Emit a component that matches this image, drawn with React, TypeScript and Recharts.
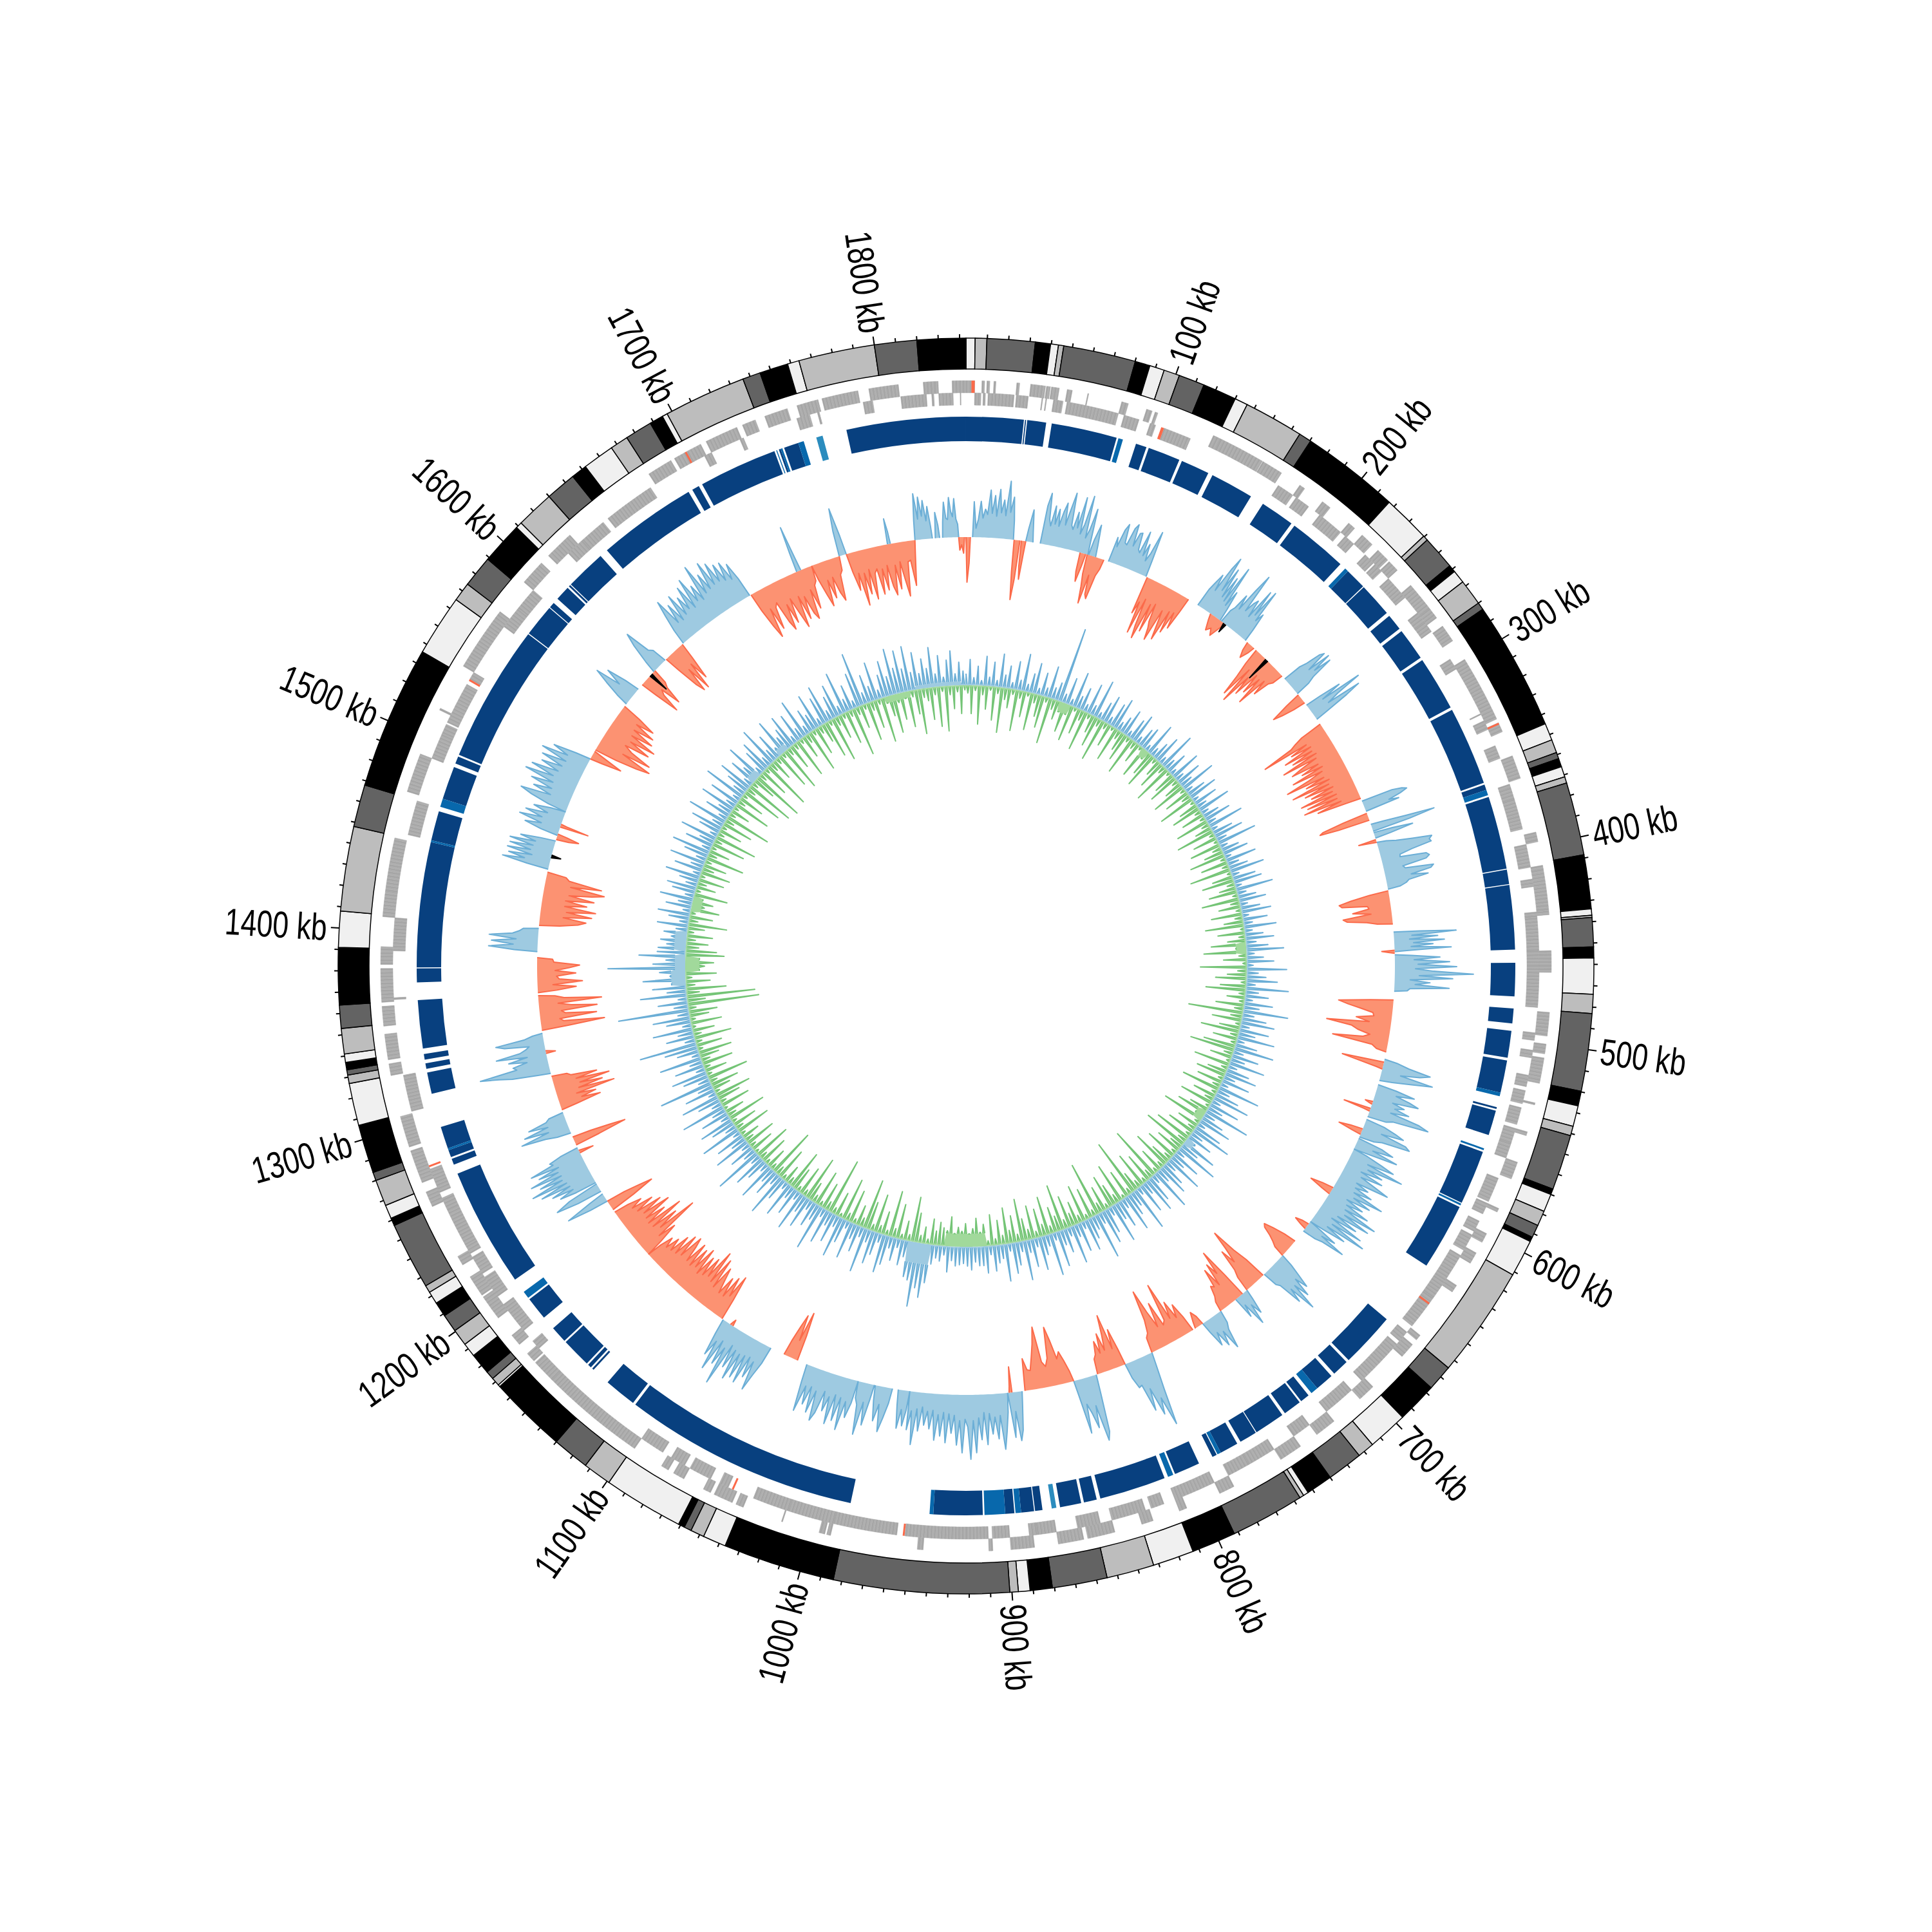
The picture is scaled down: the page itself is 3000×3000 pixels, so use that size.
import React from 'react';
import { PieChart, Pie, RadarChart, Radar, PolarAngleAxis, PolarRadiusAxis } from 'recharts';

const GENOME_KB = 1843;
const SIZE = 3000;
const CENTER = SIZE / 2;

// ideogram bands: end position (kb), shades cycle light, grey, dark, black
const bandEnds = [4.3, 9.8, 32.5, 39.7, 43.4, 45.9, 80.1, 87.2, 94.2, 101.7, 114, 130, 136.2, 164.4, 170.4, 217, 239.6, 242, 258, 261.5, 267.7, 280, 283.5, 344.6, 352.7, 359, 362, 366, 371, 374, 408.5, 434, 437, 438, 451.8, 457, 474, 483, 519.7, 526.7, 536.5, 541, 567.3, 570, 578.5, 585.7, 591.8, 594, 611.6, 664.5, 676.8, 696, 715, 723, 740, 752.5, 755, 757, 792, 813, 832.5, 855, 881, 891.5, 897, 901, 984, 1037, 1048, 1054.5, 1058, 1061, 1099, 1112.5, 1130, 1167, 1168, 1172, 1176, 1186, 1192.6, 1200.5, 1209, 1216, 1222, 1225.5, 1257.3, 1261, 1267.5, 1280, 1284, 1307, 1327, 1331, 1333.5, 1337, 1341, 1353, 1364, 1391, 1408, 1448, 1468, 1536, 1565, 1574, 1589, 1609, 1612, 1630, 1644.5, 1652, 1667, 1675.6, 1688.5, 1695, 1697.5, 1736.5, 1745, 1758.5, 1764, 1800, 1820, 1843];
const bandCycle = ['#f0f0f0', '#bdbdbd', '#636363', '#000000'];

// gene blocks on the two strands, [start, end] in kb
const genesOuter = [[1770, 1788.5], [1794, 1809], [1821.5, 1829], [1836, 1843], [0, 4.4], [8, 9.4], [10.5, 12], [14, 15], [25.5, 27], [32.5, 40], [40.5, 42.5], [43, 47], [51, 53.6], [61.5, 62], [79, 82.5], [92, 95], [96.5, 98], [128, 132], [132, 155.7], [156, 167], [178, 181], [192, 197], [209, 213], [218, 225], [229, 236], [237, 243], [253, 268], [268, 274], [279, 284], [283, 288], [299, 308], [307, 333], [335, 340], [353, 365], [393, 398], [410, 412], [411, 433], [433, 435], [453, 464], [484, 496], [500, 505], [507, 520], [530, 531], [545, 547], [561, 570], [586, 588], [600, 605], [611, 617], [630, 634], [661, 664], [667, 675], [696, 705], [722, 733], [743, 755], [782, 790], [808, 812], [826, 832], [846, 860], [862, 875], [887, 899], [908, 910], [943, 946], [990, 992], [993, 996], [1015, 1015.6], [1036, 1040], [1042, 1052], [1054, 1058], [1069, 1075], [1078, 1082], [1098, 1112], [1111, 1130], [1128, 1146], [1145, 1152], [1152, 1164], [1165, 1170], [1176, 1182], [1193, 1206], [1207, 1218], [1225, 1230], [1258, 1266], [1271, 1288], [1290, 1306], [1327, 1333], [1335, 1348], [1352, 1362], [1364, 1381], [1383, 1392], [1407, 1420], [1420, 1447], [1471, 1480], [1478, 1491], [1515, 1516], [1540, 1573], [1592, 1605], [1610, 1625], [1675, 1688], [1690, 1705], [1708, 1725], [1728, 1735], [1740, 1752], [1757, 1768]];
const genesInner = [[4.4, 7.7], [8.8, 10], [11.3, 24.7], [25.8, 32], [39, 39.5], [41, 41.5], [45, 50], [52, 79], [82, 90], [96, 99], [103.5, 118], [169, 178], [180, 188], [195, 209], [212, 218], [226, 232], [233, 238], [243, 256], [266, 272], [272, 278], [295, 301], [327, 327.6], [331, 336], [345, 352], [366, 368], [368, 374], [374, 390], [398, 410], [416, 420], [433, 436], [436, 453], [453, 482], [495, 499], [504, 508], [517, 523], [525, 532], [534, 543], [545, 553], [549, 561], [572, 585], [586, 592], [596, 602], [604, 613], [616, 632], [632, 642], [642, 660], [664, 670], [672, 698], [705, 722], [733, 743], [755, 770], [770, 782], [790, 812], [818, 825], [828, 846], [852, 864], [875, 885], [885, 889], [899, 908], [910, 921], [921, 941], [941, 953], [957, 990], [988, 1014], [1014, 1033], [1047, 1052], [1057, 1069], [1072, 1080], [1085, 1098], [1168, 1173], [1180, 1197], [1202, 1214], [1216, 1226], [1228, 1233], [1233, 1253], [1252, 1260], [1263, 1276], [1307, 1326], [1365, 1366], [1390, 1407], [1450, 1468], [1491, 1505], [1498, 1510], [1511, 1533], [1536, 1540], [1568, 1580], [1578, 1592], [1618, 1628], [1628, 1642], [1645, 1672], [1704, 1708], [1724, 1726], [1755, 1762], [1766, 1767], [1790, 1795], [1809.5, 1822.7], [1825.4, 1826.5], [1829, 1836.4], [1840, 1840.4]];
const genesOuterFlag = [[2.75, 4.4], [335, 336], [1696, 1697]];
const genesInnerFlag = [[102, 103.5], [645, 646], [953, 954], [1044, 1045], [1277, 1278], [1535, 1536]];

// blue ring blocks, three shades
const ringDark = [[0, 31], [31.6, 32.2], [32.8, 43], [46, 81.5], [92.3, 98.2], [99.5, 117], [118.5, 134], [136.5, 160], [167.5, 186], [188, 220], [225.5, 237], [237.5, 256], [258, 266.8], [268.5, 286], [287.5, 317], [318.5, 361], [362, 365], [369, 408.5], [409, 416.8], [417.3, 452], [459, 477], [483.5, 491.5], [495.5, 510], [511.5, 529], [537, 538], [539, 552.5], [562, 591.5], [594, 630], [665.6, 695.5], [697, 706], [708, 718], [724, 729], [730, 739.8], [741.5, 758], [758.5, 768], [770, 780], [782.5, 785], [793, 807], [813, 849], [851, 858], [859.5, 871], [880.5, 884.5], [885, 892], [895.6, 900.5], [912.5, 939], [983.6, 1111], [1112.5, 1130], [1140, 1141], [1142, 1144], [1145, 1161], [1162, 1171], [1178.5, 1191], [1204, 1268.5], [1273.7, 1277], [1278, 1282], [1283, 1295], [1313.4, 1325], [1327, 1330], [1332, 1335], [1338, 1364], [1373.5, 1381], [1381.5, 1449], [1450, 1466], [1473, 1491], [1493, 1497], [1498, 1572.5], [1573, 1590.5], [1591, 1594], [1597, 1605], [1606, 1607], [1607.5, 1629.5], [1634, 1687.7], [1690, 1694], [1696, 1738.5], [1741, 1742], [1744, 1752], [1778.6, 1843]];
const ringMid = [[82.5, 85], [223.5, 225.5], [365, 368], [529, 531], [560, 561], [592, 593], [718, 722], [780, 782], [808, 811], [892, 895], [900.5, 911.6], [939, 941], [1192, 1196], [1282, 1283], [1449, 1450], [1468.5, 1473], [1739.5, 1740], [1742, 1743], [1752, 1755]];
const ringLight = [[873, 875.5], [1762, 1765.5]];

// outer histogram: [start kb, end kb, then evenly spaced heights]
const outerBlue = [
  [4.5, 32.5, 55, 14, 28, 56, 30, 44, 36, 74, 38, 66, 34, 76, 40, 60, 36, 90, 42, 66, 30],
  [41, 46, 20, 50, 15],
  [51, 84.5, 60, 80, 40, 30, 62, 34, 58, 32, 55, 70, 36, 62, 88, 38, 32, 60, 36, 85, 28, 44, 90, 24, 38, 72, 20],
  [85, 90, 25, 50, 18],
  [99.3, 127, 40, 26, 55, 65, 36, 34, 62, 70, 36, 58, 60, 34, 30, 66, 28, 48, 22, 36, 73, 26],
  [167.5, 186, 30, 45, 60, 34, 75, 96, 40, 80, 32, 68, 28, 90, 24, 50, 20],
  [187, 208, 22, 30, 55, 32, 70, 99, 36, 52, 60, 32, 82, 40, 86, 34, 48, 20],
  [245.7, 259, 30, 42, 65, 72, 38, 75, 44, 72, 36, 24],
  [269, 281, 25, 60, 26, 92, 50, 30, 85, 60, 20],
  [345, 352.5, 50, 65, 72, 60, 40, 55],
  [362, 367, 20, 55, 101, 60],
  [368, 372, 30, 62, 25],
  [375, 408, 15, 30, 55, 85, 80, 82, 50, 30, 29, 70, 74, 68, 30, 33, 77, 72, 40, 66, 35, 30, 20],
  [437.5, 451, 40, 97, 28, 68, 24, 78, 30, 60, 26, 88, 22],
  [453, 478, 26, 70, 30, 85, 36, 96, 32, 60, 122, 38, 90, 24, 55, 32, 85, 24, 20],
  [525, 540, 20, 40, 75, 60, 30, 82, 50, 20],
  [543, 566, 30, 60, 32, 55, 70, 30, 50, 36, 60, 32, 80, 96, 40, 30],
  [568, 581, 30, 50, 65, 30, 72, 80, 36, 24],
  [582, 590, 40, 60, 28, 70, 24],
  [590, 648, 24, 50, 72, 30, 90, 34, 60, 26, 64, 30, 55, 80, 28, 50, 30, 60, 32, 83, 36, 66, 28, 58, 32, 72, 34, 90, 38, 83, 30, 66, 24, 80, 30, 90, 26, 60, 24],
  [648, 656, 20, 50, 28, 70, 34, 22],
  [678, 696, 20, 40, 60, 40, 70, 46, 89, 46, 68, 30, 24],
  [712, 722, 15, 40, 22, 54, 16, 35],
  [735, 750, 20, 30, 60, 28, 50, 24, 44, 18],
  [790, 810, 20, 60, 116, 70, 95, 50, 84, 40, 42, 24],
  [831, 847, 30, 90, 103, 46, 80, 56, 40, 85, 24],
  [883, 893, 20, 60, 76, 30, 70, 20],
  [893, 960, 30, 60, 87, 34, 70, 36, 62, 30, 78, 28, 70, 36, 90, 40, 100, 50, 38, 90, 40, 78, 32, 60, 30, 75, 28, 65, 32, 72, 26, 55, 28, 50, 22, 60, 26, 82, 30, 60],
  [960, 968, 30, 55, 30, 60, 24],
  [972, 984, 24, 48, 70, 28, 55, 24],
  [984.6, 996, 24, 65, 30, 82, 36, 26],
  [996, 1033, 36, 60, 36, 82, 32, 70, 30, 78, 36, 60, 30, 66, 80, 34, 70, 30, 60, 32, 74, 28],
  [1060, 1098, 28, 50, 77, 32, 60, 28, 74, 30, 70, 32, 77, 30, 62, 26, 95, 36, 66, 28, 80, 34, 60, 24],
  [1212, 1218, 30, 67, 25],
  [1220, 1226, 40, 75, 50],
  [1227, 1254, 34, 60, 36, 70, 38, 85, 40, 97, 44, 80, 42, 92, 44, 75, 40, 85, 46, 50, 30],
  [1265, 1280, 22, 40, 78, 32, 70, 30, 60, 30, 24],
  [1308, 1336, 20, 60, 80, 109, 50, 55, 32, 60, 30, 78, 40, 30, 24, 62, 75, 30, 16],
  [1392, 1408, 36, 76, 38, 72, 34, 76, 40, 30, 24],
  [1449, 1469, 34, 74, 40, 66, 30, 70, 34, 68, 32, 70, 30, 55, 24],
  [1473, 1490, 28, 55, 30, 67, 32, 60, 26, 50, 24],
  [1490, 1530, 30, 60, 79, 32, 62, 34, 70, 36, 84, 40, 78, 36, 66, 34, 70, 32, 75, 34, 60, 24],
  [1575, 1588, 20, 45, 68, 28, 55, 24],
  [1604, 1615, 20, 50, 70, 30, 24],
  [1632, 1688, 24, 50, 74, 30, 60, 28, 70, 32, 60, 36, 72, 32, 80, 38, 62, 34, 91, 40, 70, 42, 85, 44, 78, 44, 70, 40, 68, 36, 60, 32],
  [1724, 1727, 30, 73, 20],
  [1755, 1760, 40, 75, 30],
  [1789, 1791, 40, 20],
  [1808, 1820, 30, 72, 32, 66, 36, 60, 28, 50, 20],
  [1822, 1825, 40, 20],
  [1827, 1838, 24, 55, 30, 28, 62, 40, 32, 60, 28, 20],
];
const outerOrange = [
  [0, 3, 70, 40],
  [33, 37, 50, 93, 60],
  [38, 41, 40, 60, 20],
  [79, 83, 30, 45, 20],
  [84, 96, 30, 50, 76, 30, 60, 66, 28, 16],
  [128, 160, 60, 40, 90, 32, 75, 95, 36, 80, 32, 60, 70, 88, 36, 60, 82, 32, 66, 30, 55, 24],
  [178, 190, 10, 25, 18, 28, 10],
  [210, 216, 14, 25, 12],
  [218, 243, 26, 50, 82, 30, 90, 40, 70, 28, 60, 30, 75, 26, 50, 24, 18],
  [260, 267, 25, 54, 40, 20],
  [285, 343, 36, 50, 60, 110, 36, 65, 32, 80, 34, 70, 30, 90, 34, 62, 80, 36, 66, 32, 85, 36, 60, 100, 38, 70, 32, 96, 36, 78, 32, 70, 36, 90, 32, 82, 34, 90, 30, 70, 24],
  [354, 359, 40, 74, 80, 50],
  [373, 375, 28, 10],
  [409, 432, 30, 60, 79, 75, 36, 34, 60, 32, 76, 70, 40, 24],
  [450, 452, 20, 8],
  [484, 520, 36, 85, 70, 50, 30, 28, 55, 34, 100, 60, 50, 30, 40, 87, 24, 16],
  [527, 532, 66, 40, 10],
  [555, 557, 12, 5],
  [560, 562, 43, 10],
  [575, 579, 20, 38, 15],
  [620, 625, 18, 37, 15],
  [650, 654, 12, 22, 10],
  [665, 678, 20, 40, 54, 50, 36, 26, 18],
  [697, 712, 36, 60, 99, 70, 46, 70, 36, 24],
  [716, 735, 40, 87, 50, 70, 34, 65, 36, 40, 24, 16],
  [750, 756, 15, 25, 10],
  [758, 790, 26, 50, 30, 60, 34, 95, 36, 30, 70, 32, 60, 97, 50, 30, 24],
  [810, 830, 26, 60, 30, 86, 56, 32, 60, 30, 50, 30, 24],
  [847, 881, 16, 35, 50, 40, 70, 92, 44, 32, 40, 96, 70, 50, 30, 32, 50],
  [890, 892, 40, 10],
  [1040, 1050, 40, 77, 30, 70, 50, 24],
  [1090, 1092, 10, 4],
  [1099, 1166, 34, 73, 36, 66, 30, 60, 30, 50, 70, 32, 80, 36, 88, 40, 70, 36, 66, 32, 75, 38, 68, 34, 72, 36, 60, 75, 36, 71, 32, 62, 30, 50, 28, 44, 24],
  [1166, 1203, 28, 60, 32, 104, 42, 76, 34, 90, 32, 66, 34, 80, 36, 70, 30, 60, 26, 45, 24],
  [1205, 1212, 40, 76, 55, 30],
  [1250, 1252, 23, 8],
  [1256, 1262, 40, 85, 60, 30],
  [1282, 1306, 26, 65, 36, 60, 30, 92, 36, 75, 40, 88, 36, 70, 30, 24],
  [1322, 1324, 15, 5],
  [1338, 1362, 44, 99, 36, 30, 88, 40, 34, 90, 50, 30, 98, 40, 26],
  [1364, 1388, 30, 60, 24, 70, 34, 30, 60, 28, 50, 66, 26, 24],
  [1410, 1447, 32, 60, 72, 36, 80, 40, 85, 36, 70, 36, 80, 40, 75, 94, 40, 88, 36, 30],
  [1470, 1474, 20, 35, 15],
  [1479, 1481, 45, 10],
  [1530, 1536, 20, 50, 18],
  [1537, 1573, 36, 70, 90, 40, 85, 50, 36, 75, 40, 80, 36, 70, 34, 66, 32, 60, 30],
  [1592, 1605, 26, 66, 36, 28, 60, 32, 24],
  [1616, 1631, 26, 60, 75, 36, 76, 32, 62, 26],
  [1689, 1735, 30, 60, 80, 34, 70, 36, 30, 65, 80, 40, 72, 34, 62, 85, 36, 75, 40, 70, 80, 34, 66, 30, 24],
  [1735, 1755, 24, 50, 70, 30, 60, 28, 55, 68, 28, 22],
  [1760, 1808, 30, 60, 34, 86, 36, 70, 32, 80, 40, 34, 75, 36, 70, 32, 66, 80, 34, 72, 30, 60, 85, 32, 30, 70, 24],
  [1838, 1842, 20, 12, 25],
];
const outerBlack = [[189, 191, 15], [227, 229, 38], [1457, 1459, 15], [1600, 1602, 32]];

// inner tracks: one spike per 4 kb, 25 to a row (100 kb)
const innerBlue = [
  18, 40, 12, 30, 8, 46, 14, 38, 10, 52, 20, 35, 10, 44, 16, 58, 12, 30, 48, 10, 36, 14, 50, 18, 28,
  118, 14, 42, 10, 56, 20, 36, 12, 48, 16, 60, 10, 30, 44, 12, 38, 50, 14, 26, 42, 10, 34, 46, 12, 30,
  36, 10, 52, 14, 28, 44, 12, 60, 18, 34, 10, 48, 14, 40, 20, 56, 12, 30, 46, 10, 38, 16, 52, 12, 26,
  42, 14, 56, 10, 32, 46, 16, 62, 12, 28, 40, 10, 48, 18, 30, 54, 12, 36, 44, 10, 58, 14, 28, 42, 12,
  30, 46, 10, 38, 14, 50, 12, 28, 44, 16, 34, 58, 12, 26, 42, 10, 62, 18, 30, 48, 14, 66, 20, 36, 12,
  44, 24, 70, 18, 38, 52, 14, 46, 26, 58, 12, 34, 62, 16, 42, 22, 56, 14, 36, 50, 18, 44, 12, 66, 20,
  38, 58, 14, 48, 24, 72, 18, 36, 52, 12, 44, 64, 20, 40, 16, 56, 30, 68, 14, 46, 24, 60, 18, 38, 50,
  22, 66, 14, 42, 56, 20, 48, 12, 70, 24, 36, 58, 16, 44, 28, 62, 14, 40, 54, 18, 72, 22, 34, 50, 12,
  46, 20, 60, 14, 38, 24, 56, 12, 66, 18, 30, 52, 14, 44, 20, 62, 16, 36, 48, 12, 58, 22, 28, 40, 14,
  42, 30, 30, 24, 36, 30, 26, 28, 30, 22, 40, 14, 24, 20, 30, 60, 84, 70, 100, 60, 56, 26, 40, 14, 36,
  18, 46, 60, 14, 36, 52, 20, 70, 16, 42, 24, 58, 12, 38, 64, 18, 46, 22, 54, 14, 72, 26, 40, 16, 50,
  28, 62, 14, 44, 20, 56, 12, 36, 68, 18, 42, 24, 60, 14, 34, 52, 16, 76, 20, 40, 14, 58, 24, 46, 12,
  64, 18, 38, 54, 14, 44, 22, 70, 16, 36, 60, 12, 48, 24, 84, 18, 40, 56, 14, 46, 20, 66, 12, 34, 52,
  90, 16, 44, 24, 62, 14, 38, 58, 18, 110, 22, 46, 14, 72, 30, 52, 18, 66, 24, 40, 120, 50, 30, 72, 44,
  43, 30, 40, 24, 36, 18, 48, 14, 32, 50, 12, 40, 22, 52, 14, 36, 46, 18, 30, 54, 12, 44, 20, 56, 16,
  38, 60, 14, 44, 24, 58, 12, 34, 50, 18, 62, 14, 40, 22, 56, 16, 48, 12, 66, 20, 36, 54, 14, 44, 26,
  60, 12, 38, 50, 16, 64, 20, 42, 14, 58, 24, 34, 52, 12, 46, 18, 62, 14, 38, 26, 56, 12, 44, 60, 16,
  36, 52, 14, 66, 20, 40, 12, 54, 84, 18, 44, 24, 60, 14, 36, 56, 30, 72, 40, 66, 36, 70, 28, 58, 24,
  46, 30, 62, 20, 48, 14, 40, 54, 18, 36, 22,
];
const innerGreen = [
  12, 44, 8, 60, 14, 36, 6, 52, 10, 70, 18, 30, 8, 64, 12, 40, 6, 58, 14, 34, 50, 8, 72, 16, 30,
  8, 46, 12, 56, 6, 40, 16, 62, 8, 28, 48, 12, 66, 10, 36, 6, 54, 14, 30, 44, 8, 60, 12, 32, 6,
  50, 10, 38, 56, 8, 26, 44, 12, 62, 6, 34, 48, 10, 28, 54, 8, 40, 14, 58, 6, 30, 46, 10, 36, 8,
  52, 12, 26, 60, 8, 38, 6, 48, 14, 30, 56, 8, 42, 10, 64, 6, 32, 50, 12, 26, 44, 8, 58, 14, 34,
  8, 48, 12, 30, 60, 6, 42, 10, 28, 54, 8, 66, 12, 36, 6, 72, 14, 30, 48, 8, 40, 62, 10, 28, 8,
  44, 14, 85, 18, 46, 8, 32, 60, 12, 38, 8, 50, 70, 14, 34, 6, 56, 10, 30, 46, 8, 40, 12, 60, 8,
  36, 14, 52, 6, 30, 48, 10, 66, 8, 34, 12, 44, 8, 58, 14, 70, 20, 40, 8, 50, 12, 32, 60, 10, 38,
  8, 85, 14, 46, 8, 56, 12, 30, 90, 10, 44, 6, 62, 14, 34, 52, 8, 40, 16, 85, 10, 48, 8, 58, 12,
  36, 20, 50, 14, 72, 24, 40, 12, 60, 18, 44, 10, 52, 16, 34, 66, 12, 42, 20, 56, 14, 38, 10, 48, 8,
  34, 22, 44, 28, 20, 36, 24, 30, 18, 46, 24, 28, 36, 22, 40, 8, 26, 12, 46, 70, 10, 30, 8, 54, 14,
  72, 8, 36, 12, 60, 10, 44, 78, 14, 32, 8, 52, 12, 66, 6, 38, 10, 88, 14, 42, 8, 56, 12, 30, 70,
  10, 46, 8, 36, 62, 12, 28, 8, 50, 14, 76, 10, 32, 8, 44, 12, 58, 6, 36, 10, 48, 14, 28, 8, 54,
  12, 38, 8, 60, 14, 30, 6, 46, 10, 36, 56, 8, 28, 44, 12, 64, 8, 34, 10, 48, 14, 30, 52, 8, 40,
  10, 58, 12, 34, 6, 48, 8, 30, 44, 12, 111, 28, 106, 20, 62, 14, 38, 10, 48, 8, 30, 44, 12, 60, 48,
  20, 34, 14, 40, 10, 26, 60, 14, 36, 8, 44, 20, 32, 12, 52, 8, 30, 14, 40, 8, 46, 18, 36, 10, 60,
  14, 32, 8, 52, 12, 66, 10, 36, 8, 48, 14, 72, 10, 30, 8, 58, 12, 40, 8, 64, 14, 77, 10, 36, 82,
  12, 46, 8, 77, 14, 34, 10, 58, 8, 70, 12, 40, 10, 62, 8, 36, 14, 66, 8, 44, 12, 30, 58, 8, 70,
  14, 38, 8, 52, 10, 76, 12, 36, 8, 60, 14, 44, 8, 70, 10, 32, 60, 14, 42, 8, 56, 10, 38, 70, 14,
  20, 50, 12, 62, 8, 70, 14, 36, 10, 44, 8,
];
// stretches where the inner tracks stay well off the baseline: [start, end, height]
const innerBlueFloor = [[654, 662, 14], [960, 981, 32], [1362, 1378, 22], [1380, 1392, 16], [1400, 1416, 18], [1590, 1600, 12], [1632, 1640, 10], [1790, 1838, 6]];
const innerGreenFloor = [[102, 110, 16], [200, 208, 14], [438, 446, 16], [620, 630, 14], [900, 945, 20], [1378, 1392, 22], [1440, 1455, 15], [1755, 1785, 10]];

// tick labels every 100 kb, minor ticks every 10 kb
const majorLabels = [100, 200, 300, 400, 500, 600, 700, 800, 900, 1000, 1100, 1200, 1300, 1400, 1500, 1600, 1700, 1800];
const tickKb = Array.from({ length: 184 }, (_, i) => (i + 1) * 10);

const ringEntries = (blocks: number[][], fill: string) => {
  const sorted = [...blocks].sort((a, b) => a[0] - b[0]);
  const out: { size: number; fill: string; stroke?: string }[] = [];
  let cursor = 0;
  sorted.forEach(([s, e]) => {
    const start = Math.max(s, cursor);
    if (e <= start) return;
    if (start > cursor) out.push({ size: start - cursor, fill: 'none' });
    out.push({ size: e - start, fill });
    cursor = e;
  });
  if (cursor < GENOME_KB) out.push({ size: GENOME_KB - cursor, fill: 'none' });
  return out;
};

// cut a gene block in narrow strokes so it has the striped look of single genes
const geneEntries = (blocks: number[][]) => {
  const out: { size: number; fill: string; stroke?: string; strokeWidth?: number }[] = [];
  ringEntries(blocks, 'x').forEach(entry => {
    if (entry.fill === 'none') {
      out.push(entry);
      return;
    }
    let left = entry.size;
    let odd = false;
    while (left > 0) {
      const size = Math.min(left, 0.9);
      const fill = odd ? '#afafaf' : '#a5a5a5';
      out.push({ size, fill, stroke: fill, strokeWidth: 0.5 });
      left -= size;
      odd = !odd;
    }
  });
  return out;
};

const bandEntries = bandEnds.map((end, i) => ({
  size: end - (i === 0 ? 0 : bandEnds[i - 1]),
  fill: bandCycle[i % 4],
}));

const regionRows = (regions: number[][], sign: number) => {
  const rows: { pos: number; band: number[]; line: number; brk?: boolean }[] = [];
  regions.forEach(r => {
    const [start, end, ...vals] = r;
    rows.push({ pos: start, band: [0, 0], line: 0, brk: true });
    vals.forEach((v, i) => {
      const pos = start + ((end - start) * (i + 0.5)) / vals.length;
      rows.push({ pos, band: [0, sign * v], line: sign * v });
    });
    rows.push({ pos: end, band: [0, 0], line: 0 });
  });
  return rows;
};

const spikeRows = (vals: number[], floors: number[][], sign: number, offset: number) => {
  const floorAt = (pos: number) => {
    const hit = floors.find(f => pos >= f[0] && pos <= f[1]);
    return hit ? hit[2] : 2;
  };
  const rows: { pos: number; band: number[]; line: number; brk?: boolean }[] = [];
  vals.forEach((v, i) => {
    const pos = i * 4 + offset;
    const low = floorAt(pos);
    [[pos - 1.1, low], [pos, Math.max(v, low)], [pos + 1.1, low]].forEach(([p, h], k) => {
      if (p >= 0 && p <= GENOME_KB) rows.push({ pos: p, band: [0, sign * h], line: sign * h, brk: k === 0 });
    });
  });
  return rows;
};

// stroke only the marks, without joining them along the baseline
const LineShape = (props: any) => {
  const d = props.points
    .map((p: any, i: number) => `${i === 0 || p.payload.brk ? 'M' : 'L'}${p.x},${p.y}`)
    .join('');
  return <path d={d} fill="none" stroke={props.stroke} strokeWidth={props.strokeWidth} strokeLinejoin="round" />;
};

const layer: React.CSSProperties = { position: 'absolute', left: 0, top: 0 };

const Track = ({ rows, base, fill, stroke }: { rows: any[]; base: number; fill: string; stroke: string }) => (
  <div style={layer}>
    <RadarChart width={SIZE} height={SIZE} cx={CENTER} cy={CENTER} outerRadius={1000} innerRadius={0}
      startAngle={90} endAngle={-270} data={rows} margin={{ top: 0, right: 0, bottom: 0, left: 0 }}>
      <PolarAngleAxis dataKey="pos" type="number" domain={[0, GENOME_KB]} tick={false} axisLine={false} />
      <PolarRadiusAxis domain={[-base, 1000 - base]} type="number" tick={false} axisLine={false} />
      <Radar dataKey="band" fill={fill} fillOpacity={1} stroke="none" dot={false} isAnimationActive={false} />
      <Radar dataKey="line" shape={LineShape} stroke={stroke} strokeWidth={2} dot={false} isAnimationActive={false} />
    </RadarChart>
  </div>
);

const ScaleTick = (props: any) => {
  const { x, y, payload } = props;
  const kb = payload.value;
  const major = majorLabels.includes(kb);
  const dx = x - CENTER;
  const dy = y - CENTER;
  const r = Math.hypot(dx, dy);
  const ux = dx / r;
  const uy = dy / r;
  const len = major ? 13 : 6;
  const clock = ((Math.atan2(dx, -dy) * 180) / Math.PI + 360) % 360;
  const right = clock < 180;
  const rot = right ? clock - 90 : clock + 90;
  const x0 = CENTER + ux * 975;
  const y0 = CENTER + uy * 975;
  const lx = CENTER + ux * 994;
  const ly = CENTER + uy * 994;
  return (
    <g>
      <line x1={x0} y1={y0} x2={x0 + ux * len} y2={y0 + uy * len} stroke="#000" strokeWidth={2} />
      {major && (
        <text x={0} y={0} transform={`translate(${lx} ${ly}) rotate(${rot}) scale(0.77 1)`} textAnchor={right ? 'start' : 'end'}
          dominantBaseline="central" fontFamily="'Liberation Sans', sans-serif" fontSize={58} fill="#000">
          {kb} kb
        </text>
      )}
    </g>
  );
};

const pieProps = { dataKey: 'size', cx: CENTER, cy: CENTER, startAngle: 90, endAngle: -270, isAnimationActive: false, stroke: 'none', paddingAngle: 0, legendType: 'none' as const };

export default function App() {
  return (
    <div style={{ position: 'absolute', left: 0, top: 0, width: SIZE, height: SIZE, background: '#fff' }}>
      <div style={layer}>
        <PieChart width={SIZE} height={SIZE} margin={{ top: 0, right: 0, bottom: 0, left: 0 }}>
          <Pie {...pieProps} data={bandEntries} innerRadius={927} outerRadius={975} stroke="#000" strokeWidth={1.5} />
          <Pie {...pieProps} data={geneEntries(genesOuter)} innerRadius={890} outerRadius={909} />
          <Pie {...pieProps} data={geneEntries(genesInner)} innerRadius={871} outerRadius={890} />
          <Pie {...pieProps} data={ringEntries(genesOuterFlag, '#fb6a4a')} innerRadius={890} outerRadius={909} />
          <Pie {...pieProps} data={ringEntries(genesInnerFlag, '#fb6a4a')} innerRadius={871} outerRadius={890} />
          <Pie {...pieProps} data={ringEntries(ringDark, '#08407f')} innerRadius={815} outerRadius={853} />
          <Pie {...pieProps} data={ringEntries(ringMid, '#0868ac')} innerRadius={815} outerRadius={853} />
          <Pie {...pieProps} data={ringEntries(ringLight, '#2b8cbe')} innerRadius={815} outerRadius={853} />
        </PieChart>
      </div>
      <Track rows={regionRows(outerBlue, 1)} base={666} fill="#9ecae1" stroke="#6baed6" />
      <Track rows={regionRows(outerOrange, -1)} base={666} fill="#fc9272" stroke="#fb6a4a" />
      <Track rows={regionRows(outerBlack, -1)} base={666} fill="#000000" stroke="#000000" />
      <Track rows={spikeRows(innerBlue, innerBlueFloor, 1, 0)} base={436} fill="#9ecae1" stroke="#6baed6" />
      <Track rows={spikeRows(innerGreen, innerGreenFloor, -1, 2)} base={436} fill="#a1d99b" stroke="#74c476" />
      <div style={layer}>
        <RadarChart width={SIZE} height={SIZE} cx={CENTER} cy={CENTER} outerRadius={975}
          startAngle={90} endAngle={-270} data={tickKb.map(pos => ({ pos, v: 0 }))}
          margin={{ top: 0, right: 0, bottom: 0, left: 0 }}>
          <PolarAngleAxis dataKey="pos" type="number" domain={[0, GENOME_KB]} ticks={tickKb as any}
            tick={ScaleTick} tickLine={false} axisLine={false} />
          <PolarRadiusAxis domain={[0, 1]} tick={false} axisLine={false} />
        </RadarChart>
      </div>
    </div>
  );
}
